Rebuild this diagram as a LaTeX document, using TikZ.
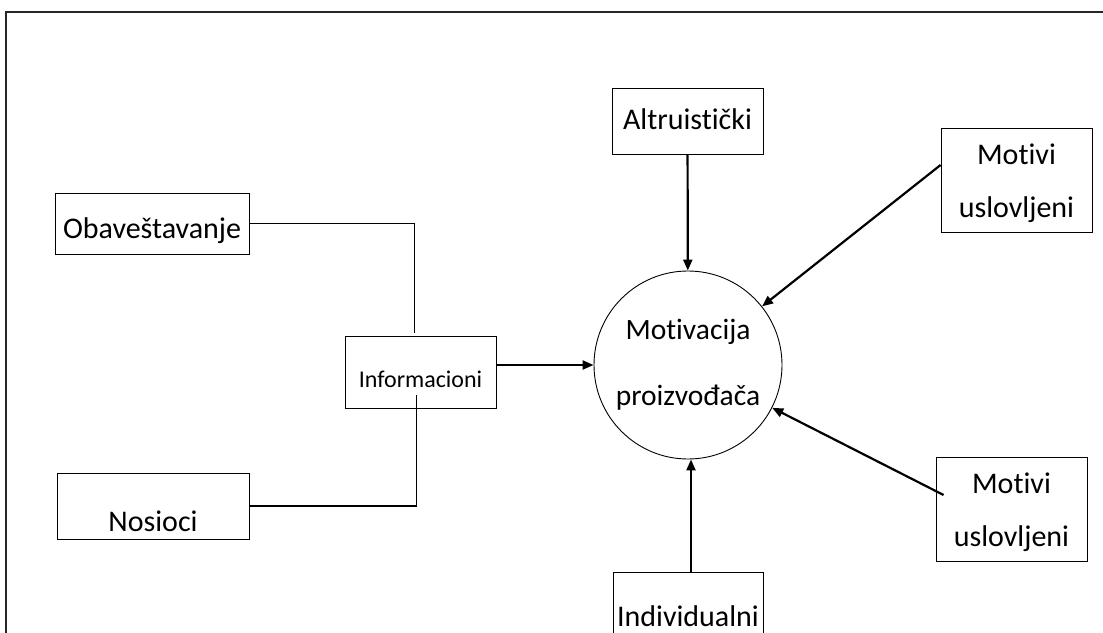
\documentclass[tikz,border=0pt]{standalone}
\usepackage{fontspec}
\setmainfont{Carlito}[Ligatures=NoCommon]
\usepackage{tikz}
\usetikzlibrary{arrows.meta, shapes.geometric, arrows, positioning}

\begin{document}
\begin{tikzpicture}[x=1pt, y=-1pt, >={Triangle[length=11pt,width=9pt]}]
        % stilovi
        \tikzstyle{okvir} = [rectangle, draw=black, line width=0.9pt, inner sep=0pt, text centered, font=\fontsize{30}{35}\selectfont]
        \tikzstyle{krug} = [circle, draw=black, line width=0.9pt, minimum size=188pt, inner sep=0pt, align=center, font=\fontsize{29.5}{66}\selectfont]
        \tikzstyle{veza} = [line width=1.2pt]
        \tikzstyle{arrow} = [line width=2.2pt, ->]

        \useasboundingbox (0,0) rectangle (1103,632);
        \draw[line width=1.6pt, black!85] (6,640) -- (6,12) -- (1110,12);

        % cvorovi
        \node (mot) [krug] at (688,365) {Motivacija\\proizvođača};
        \node (oba) [okvir, minimum width=194pt, text height=45pt, text depth=16pt] at (152,223.5) {Obaveštavanje};
        \node (nos) [okvir, minimum width=192pt, text height=58pt, text depth=8pt] at (153,506) {Nosioci};
        \node (inf) [okvir, minimum width=151pt, text height=51pt, text depth=21pt, font=\fontsize{24}{28}\selectfont] at (420.5,372) {Informacioni};
        \node (alt) [okvir, minimum width=151pt, text height=41pt, text depth=25pt] at (687.5,121) {Altruistički};
        \node (mu1) [okvir, minimum width=151pt, text height=89pt, text depth=15pt, align=center, font=\fontsize{30}{53}\selectfont] at (1016.5,180) {Motivi\\uslovljeni};
        \node (mu2) [okvir, minimum width=151pt, text height=89pt, text depth=15pt, align=center, font=\fontsize{30}{53}\selectfont] at (1011.5,509) {Motivi\\uslovljeni};
        \node (ind) [okvir, minimum width=150pt, text height=54pt, text depth=26pt] at (688,612) {Individualni};

        % linije i strelice
        \draw [veza] (oba.east) -| ([xshift=-6pt,yshift=3pt]inf.north);
        \draw [veza] (nos.east) -| ([xshift=-4pt,yshift=13pt]inf.south);
        \draw [arrow] (inf.east |- mot.west) -- (mot.west);
        \draw [arrow] (alt) -- (mot);
        \draw [arrow] ([xshift=3pt]ind.north) -- ([xshift=3pt]mot.south);
        \draw [arrow] ([yshift=15pt]mu1.west) -- (mot);
        \draw [arrow] ([xshift=8pt,yshift=14pt]mu2.west) -- (mot);

    \end{tikzpicture}
\end{document}
